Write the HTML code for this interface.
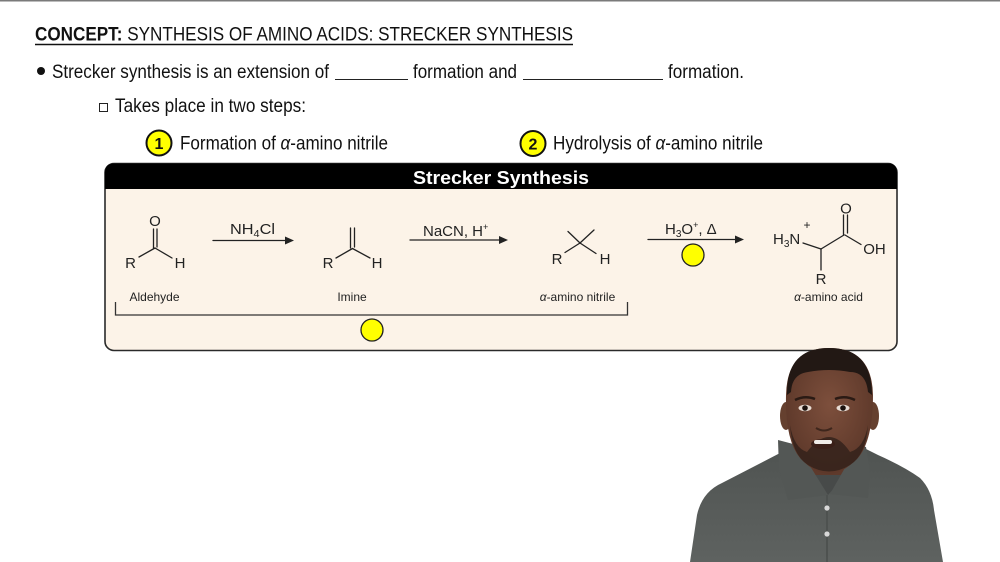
<!DOCTYPE html>
<html><head><meta charset="utf-8"><style>
html,body{margin:0;padding:0;background:#fff;}
svg{display:block;}
text{font-family:"Liberation Sans",Arial,sans-serif;}
</style></head><body>
<svg width="1000" height="562" viewBox="0 0 1000 562" xmlns="http://www.w3.org/2000/svg">
<rect x="0" y="0" width="1000" height="562" fill="#ffffff"/>
<rect x="0" y="0" width="1000" height="1.5" fill="#7a7a7a"/>

<!-- Title -->
<text x="35" y="40.5" font-size="19" fill="#111" textLength="538" lengthAdjust="spacingAndGlyphs"><tspan font-weight="bold">CONCEPT:</tspan> SYNTHESIS OF AMINO ACIDS: STRECKER SYNTHESIS</text>
<line x1="35" y1="44.5" x2="573" y2="44.5" stroke="#111" stroke-width="1.4"/>

<!-- Bullet line -->
<circle cx="41" cy="71" r="4" fill="#111"/>
<text x="52" y="78" font-size="19" fill="#111" textLength="277" lengthAdjust="spacingAndGlyphs">Strecker synthesis is an extension of</text>
<line x1="335" y1="79.5" x2="408" y2="79.5" stroke="#222" stroke-width="1.1"/>
<text x="413" y="78" font-size="19" fill="#111" textLength="104" lengthAdjust="spacingAndGlyphs">formation and</text>
<line x1="523" y1="79.5" x2="663" y2="79.5" stroke="#222" stroke-width="1.1"/>
<text x="668" y="78" font-size="19" fill="#111" textLength="76" lengthAdjust="spacingAndGlyphs">formation.</text>

<!-- Sub bullet -->
<rect x="99.5" y="103.5" width="8" height="8" fill="none" stroke="#222" stroke-width="1"/>
<text x="115" y="112" font-size="19" fill="#111" textLength="191" lengthAdjust="spacingAndGlyphs">Takes place in two steps:</text>

<!-- Steps -->
<circle cx="159" cy="143" r="12.5" fill="#ffff00" stroke="#111" stroke-width="2"/>
<text x="159" y="149" font-size="16" font-weight="bold" fill="#111" text-anchor="middle">1</text>
<text x="180" y="149.5" font-size="19" fill="#111" textLength="208" lengthAdjust="spacingAndGlyphs">Formation of <tspan font-style="italic">α</tspan>-amino nitrile</text>

<circle cx="533" cy="143.5" r="12.5" fill="#ffff00" stroke="#111" stroke-width="2"/>
<text x="533" y="149.5" font-size="16" font-weight="bold" fill="#111" text-anchor="middle">2</text>
<text x="553" y="149.5" font-size="19" fill="#111" textLength="210" lengthAdjust="spacingAndGlyphs">Hydrolysis of <tspan font-style="italic">α</tspan>-amino nitrile</text>

<!-- Box -->
<rect x="105" y="163.5" width="792" height="187" rx="9" ry="9" fill="#fcf3e8" stroke="#2a2a2a" stroke-width="1.6"/>
<path d="M105,189 L105,172.5 Q105,163.5 114,163.5 L888,163.5 Q897,163.5 897,172.5 L897,189 Z" fill="#000"/>
<text x="501" y="184" font-size="18" font-weight="bold" fill="#fff" text-anchor="middle" textLength="176" lengthAdjust="spacingAndGlyphs">Strecker Synthesis</text>

<g stroke="#222" stroke-width="1.3" fill="none" stroke-linecap="round">
  <!-- Aldehyde -->
  <line x1="153.5" y1="229" x2="153.5" y2="248"/>
  <line x1="157" y1="229" x2="157" y2="247"/>
  <line x1="155" y1="248" x2="139" y2="257"/>
  <line x1="155" y1="248" x2="172" y2="258"/>
  <!-- Imine -->
  <line x1="350.5" y1="228" x2="350.5" y2="248"/>
  <line x1="354.5" y1="228" x2="354.5" y2="247"/>
  <line x1="352.5" y1="248.5" x2="336" y2="258"/>
  <line x1="352.5" y1="248.5" x2="370" y2="258"/>
  <!-- amino nitrile -->
  <line x1="580" y1="243" x2="568" y2="231.5"/>
  <line x1="580" y1="243" x2="594" y2="230"/>
  <line x1="580" y1="243" x2="565" y2="252.5"/>
  <line x1="580" y1="243" x2="596" y2="253.5"/>
  <!-- amino acid -->
  <line x1="803" y1="243" x2="821" y2="249"/>
  <line x1="821" y1="249" x2="844" y2="235"/>
  <line x1="843.5" y1="235" x2="843.5" y2="215"/>
  <line x1="847.5" y1="233" x2="847.5" y2="215"/>
  <line x1="845" y1="235" x2="861" y2="244.5"/>
  <line x1="821" y1="249" x2="821" y2="270"/>
  <!-- arrows -->
  <line x1="213" y1="240.5" x2="287" y2="240.5"/>
  <line x1="410" y1="240" x2="501" y2="240"/>
  <line x1="648" y1="239.5" x2="737" y2="239.5"/>
  <!-- bracket -->
  <polyline points="115.5,302 115.5,315 627.5,315 627.5,302" stroke="#333" stroke-linecap="butt"/>
</g>
<g fill="#222">
  <polygon points="294,240.5 285,236.5 285,244.5"/>
  <polygon points="508,240 499,236 499,244"/>
  <polygon points="744,239.5 735,235.5 735,243.5"/>
</g>

<g font-size="15" fill="#222" text-anchor="middle">
  <text x="155" y="226">O</text>
  <text x="130.5" y="268">R</text>
  <text x="180" y="268">H</text>
  <text x="328" y="268">R</text>
  <text x="377" y="268">H</text>
  <text x="557" y="264">R</text>
  <text x="605" y="264">H</text>
  <text x="846" y="213.5">O</text>
  <text x="874.5" y="254">OH</text>
  <text x="821" y="284">R</text>
</g>
<text x="773" y="244" font-size="15" fill="#222">H<tspan font-size="10" dy="3">3</tspan><tspan dy="-3">N</tspan></text>
<text x="807" y="229" font-size="12" fill="#222" text-anchor="middle">+</text>

<!-- reagents -->
<text x="230" y="234" font-size="15" fill="#222" textLength="45" lengthAdjust="spacingAndGlyphs">NH<tspan font-size="10" dy="3">4</tspan><tspan dy="-3">Cl</tspan></text>
<text x="423" y="236" font-size="15" fill="#222">NaCN, H<tspan font-size="9" dy="-6">+</tspan></text>
<text x="665" y="234" font-size="15" fill="#222">H<tspan font-size="10" dy="3">3</tspan><tspan dy="-3">O</tspan><tspan font-size="9" dy="-6">+</tspan><tspan dy="6">, Δ</tspan></text>

<circle cx="693" cy="255" r="11" fill="#ffff00" stroke="#222" stroke-width="1.3"/>
<circle cx="372" cy="330" r="11" fill="#ffff00" stroke="#222" stroke-width="1.3"/>

<!-- labels -->
<g font-size="12" fill="#222" text-anchor="middle">
  <text x="154.5" y="301">Aldehyde</text>
  <text x="352" y="301">Imine</text>
  <text x="577.5" y="301"><tspan font-style="italic">α</tspan>-amino nitrile</text>
  <text x="828.5" y="301"><tspan font-style="italic">α</tspan>-amino acid</text>
</g>

<!-- Person -->
<defs>
  <linearGradient id="shirt" x1="0" y1="0" x2="0" y2="1">
    <stop offset="0" stop-color="#4f5351"/>
    <stop offset="1" stop-color="#5e6260"/>
  </linearGradient>
  <radialGradient id="skin" cx="0.5" cy="0.45" r="0.6">
    <stop offset="0" stop-color="#7d4f3c"/>
    <stop offset="1" stop-color="#5a3628"/>
  </radialGradient>
</defs>
<path d="M690,562 L697,515 Q702,492 722,483 L782,452 L800,444 L856,444 L878,455 Q905,467 920,478 Q932,490 934,510 L943,562 Z" fill="url(#shirt)"/>
<!-- neck -->
<path d="M797,440 L858,440 L850,470 L828,493 L806,470 Z" fill="#5e3a2c"/>
<path d="M810,475 L846,475 L828,495 Z" fill="#474a49"/>
<!-- collars -->
<path d="M778,440 L797,445 L828,495 L788,500 L779,470 Z" fill="#535755"/>
<path d="M858,445 L866,447 L870,470 L868,498 L830,494 Z" fill="#535755"/>
<line x1="827" y1="495" x2="827" y2="562" stroke="#4a4e4c" stroke-width="1.5"/>
<circle cx="827" cy="508" r="2.6" fill="#d8d8d8"/>
<circle cx="827" cy="534" r="2.6" fill="#d8d8d8"/>
<!-- ears -->
<ellipse cx="786" cy="416" rx="6" ry="14" fill="#65402f"/>
<ellipse cx="873" cy="416" rx="6" ry="14" fill="#65402f"/>
<!-- head -->
<path d="M829,348 Q872,348 873,395 Q873,440 858,458 Q842,474 829,474 Q815,474 800,458 Q785,440 786,395 Q787,348 829,348 Z" fill="url(#skin)"/>
<!-- hair -->
<path d="M787,395 Q786,348 829,348 Q872,348 872,395 L868,392 Q866,372 850,372 Q829,368 808,372 Q792,374 791,392 Z" fill="#221814"/>
<!-- brows -->
<path d="M795,400 Q805,395 815,399" stroke="#2a1a14" stroke-width="2.5" fill="none"/>
<path d="M835,399 Q845,395 855,400" stroke="#2a1a14" stroke-width="2.5" fill="none"/>
<!-- eyes -->
<ellipse cx="805" cy="408" rx="6.5" ry="3.2" fill="#e8dcd4"/>
<ellipse cx="843" cy="408" rx="6.5" ry="3.2" fill="#e8dcd4"/>
<circle cx="805" cy="408" r="2.8" fill="#1c120e"/>
<circle cx="843" cy="408" r="2.8" fill="#1c120e"/>
<!-- nose -->
<path d="M816,428 Q824,433 832,428" stroke="#3e261c" stroke-width="2" fill="none"/>
<!-- beard -->
<path d="M790,425 Q792,455 808,465 Q829,478 850,465 Q866,455 868,425 Q864,448 850,452 Q840,437 829,437 Q818,437 807,452 Q794,448 790,425 Z" fill="#34221b" opacity="0.85"/>
<!-- mouth -->
<ellipse cx="823" cy="444" rx="12" ry="5" fill="#3a1f18"/>
<rect x="814" y="440" width="18" height="4" rx="2" fill="#f0ece8"/>
</svg>
</body></html>
